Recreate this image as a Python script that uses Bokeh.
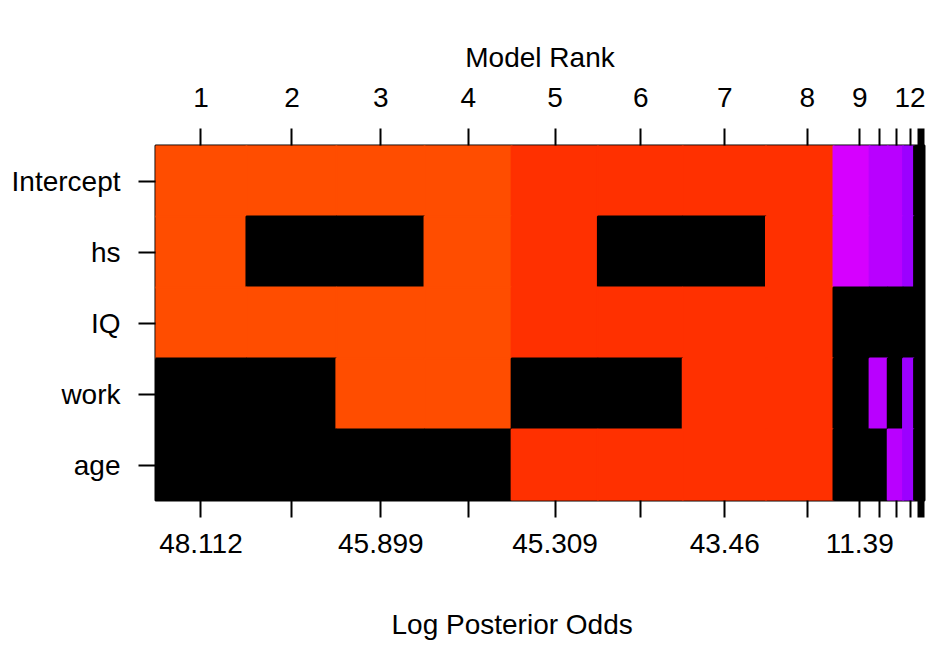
import colorsys

import numpy as np
from bokeh.embed import file_html
from bokeh.models import FixedTicker, LinearAxis, Range1d, Title
from bokeh.plotting import figure
from bokeh.resources import INLINE

# Variables (rows, top to bottom) and the 16 ranked models (columns)
variables = ["Intercept", "hs", "IQ", "work", "age"]
model_rank = list(range(1, 17))

# Log posterior odds of each model relative to the worst one
log_post_odds = [48.112, 47.25, 45.899, 45.65, 45.309, 44.45, 43.46, 42.95,
                 11.39, 8.15, 7.95, 5.55, 1.48, 0.02, 0.01, 0.0]

# Inclusion indicators per variable, models 1..16
incl_intercept = [1, 1, 1, 1, 1, 1, 1, 1, 1, 1, 1, 1, 1, 1, 1, 1]
incl_hs = [1, 0, 0, 1, 1, 0, 0, 1, 1, 1, 1, 1, 0, 0, 0, 0]
incl_iq = [1, 1, 1, 1, 1, 1, 1, 1, 0, 0, 0, 0, 0, 0, 0, 0]
incl_work = [0, 0, 1, 1, 0, 0, 1, 1, 0, 1, 0, 1, 0, 1, 0, 1]
incl_age = [0, 0, 0, 0, 1, 1, 1, 1, 0, 0, 1, 1, 0, 0, 1, 1]

# Which tick labels are printed (the others are skipped where they would collide)
shown_rank_labels = [1, 2, 3, 4, 5, 6, 7, 8, 9, 12]
shown_odds_labels = [1, 3, 5, 7, 9]

offset = 0.75

FONT = "Liberation Sans"
FSIZE = "28px"

# Column widths and centres on the cumulative log-odds scale
widths = np.array(log_post_odds) + offset
m_scale = np.concatenate([[0.0], np.cumsum(widths)])
centres = (m_scale[1:] + m_scale[:-1]) / 2
mids = (centres[1:] + centres[:-1]) / 2
x_lo = centres[0] - (centres[1] - centres[0]) / 2
x_hi = centres[-1] + (centres[-1] - centres[-2]) / 2
edges = np.concatenate([[x_lo], mids, [x_hi]])

# Colour palette: black followed by a violet -> orange-red rainbow
n_col = len(model_rank) + 1
hues = np.linspace(0.75, 1.05, n_col) % 1.0
palette = ["black"] + [
    "#%02X%02X%02X" % tuple(int(round(c * 255)) for c in colorsys.hsv_to_rgb(h, 1, 1))
    for h in hues
]
zmax = widths.max()
breaks = np.linspace(0, zmax, len(palette) + 1)


def colour_for(v):
    k = int(np.searchsorted(breaks, v, side="left"))
    k = min(max(k, 1), len(palette))
    return palette[k - 1]


inclusion = [incl_intercept, incl_hs, incl_iq, incl_work, incl_age]
nvar = len(variables)

lefts, rights, tops, bottoms, fills = [], [], [], [], []
for r, row in enumerate(inclusion):
    y_top = nvar - r
    for j, inc in enumerate(row):
        val = inc * widths[j]
        lefts.append(edges[j])
        rights.append(edges[j + 1])
        tops.append(y_top)
        bottoms.append(y_top - 1)
        fills.append(colour_for(val))

p = figure(
    width=927, height=671,
    x_range=Range1d(x_lo, x_hi), y_range=Range1d(0, nvar),
    output_backend="svg", toolbar_location=None,
    x_axis_location=None, y_axis_location=None,
    min_border_left=155, min_border_right=3,
    min_border_top=145, min_border_bottom=171,
)
p.xgrid.visible = False
p.ygrid.visible = False
p.background_fill_color = "white"
p.border_fill_color = "white"

# cells are stroked in their own colour so neighbouring cells join without seams
p.quad(left=lefts, right=rights, top=tops, bottom=bottoms,
       fill_color=fills, line_color=fills, line_width=2)

p.outline_line_color = "black"
p.outline_line_width = 2


def style_axis(ax):
    ax.axis_line_color = None
    ax.major_tick_line_color = "black"
    ax.major_tick_line_width = 2
    ax.major_tick_out = 17
    ax.major_tick_in = 0
    ax.minor_tick_line_color = None
    ax.major_label_text_font = FONT
    ax.major_label_text_font_size = FSIZE
    ax.major_label_text_color = "black"
    ax.axis_label_text_font = FONT
    ax.axis_label_text_font_size = FSIZE
    ax.axis_label_text_font_style = "normal"
    ax.axis_label_text_color = "black"


tick_pos = [float(c) for c in centres]

top_axis = LinearAxis(ticker=FixedTicker(ticks=tick_pos), axis_label="Model Rank")
top_axis.major_label_overrides = {
    t: (str(rk) if rk in shown_rank_labels else "") for t, rk in zip(tick_pos, model_rank)
}
style_axis(top_axis)
top_axis.major_label_standoff = 22
top_axis.axis_label_standoff = 12
p.add_layout(top_axis, "above")

bottom_axis = LinearAxis(ticker=FixedTicker(ticks=tick_pos))
bottom_axis.major_label_overrides = {
    t: (f"{round(v, 3):g}" if rk in shown_odds_labels else "")
    for t, v, rk in zip(tick_pos, log_post_odds, model_rank)
}
style_axis(bottom_axis)
bottom_axis.major_label_standoff = 16
p.add_layout(bottom_axis, "below")

# x-axis title sits a blank line below the tick labels
x_title = Title(
    text="\nLog Posterior Odds", align="left", offset=236,
    text_font=FONT, text_font_size=FSIZE, text_font_style="normal",
    text_color="black", standoff=40,
)
p.add_layout(x_title, "below")

row_pos = [nvar - r - 0.5 for r in range(nvar)]
left_axis = LinearAxis(ticker=FixedTicker(ticks=row_pos))
left_axis.major_label_overrides = {y: name for y, name in zip(row_pos, variables)}
style_axis(left_axis)
left_axis.major_label_standoff = 18
left_axis.major_label_orientation = "horizontal"
p.add_layout(left_axis, "left")

open("out.html", "w").write(file_html(p, INLINE))
